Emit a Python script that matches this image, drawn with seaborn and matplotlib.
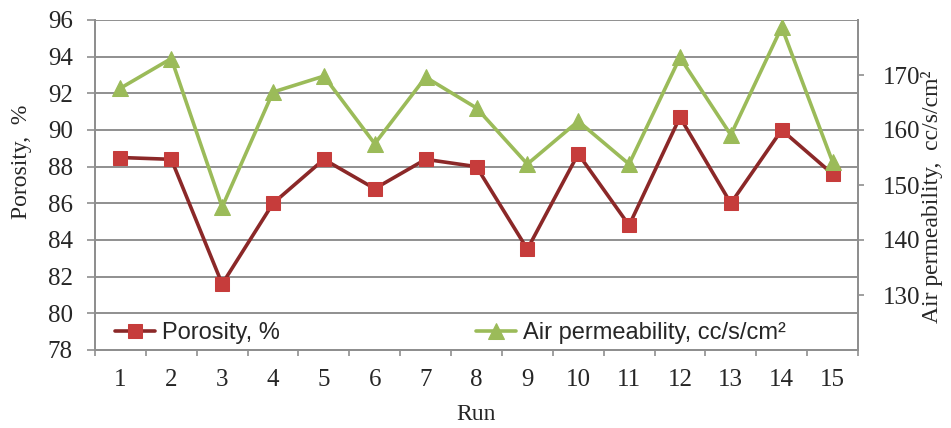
import numpy as np
import matplotlib
matplotlib.use("Agg")
import matplotlib.pyplot as plt
from matplotlib.ticker import FixedLocator
import seaborn as sns

# values
runs = list(range(1, 16))
porosity = [88.5, 88.4, 81.6, 86.0, 88.4, 86.8, 88.4, 88.0, 83.5, 88.7, 84.8, 90.7, 86.0, 90.0, 87.6]
air_perm = [167.6, 173.0, 146.0, 166.9, 169.8, 157.5, 169.6, 164.0, 153.8, 161.6, 153.8, 173.2, 159.1, 178.7, 154.2]
left_ticks = [78, 80, 82, 84, 86, 88, 90, 92, 94, 96]
right_ticks = [130, 140, 150, 160, 170]

red_line = "#8B2828"
red_mark = "#C63C3B"
green = "#9BBB59"
grid_col = "#8f8f8f"

sns.set_style("white")
plt.rcParams["font.family"] = ["Liberation Serif", "DejaVu Serif"]

fig = plt.figure(figsize=(9.51, 4.28), dpi=100)
ax = fig.add_axes([95 / 951, 78 / 428, 763 / 951, 330 / 428])
ax2 = ax.twinx()

sns.lineplot(x=runs, y=porosity, ax=ax, color=red_line, lw=2.6, marker="s",
             markersize=9.5, markerfacecolor=red_mark, markeredgecolor=red_mark,
             label="Porosity, %", legend=False)
sns.lineplot(x=runs, y=air_perm, ax=ax2, color=green, lw=2.6, marker="^",
             markersize=12, markerfacecolor=green, markeredgecolor=green,
             label="Air permeability, cc/s/cm²", legend=False)

ax.set_xlim(0.5, 15.5)
ax.set_ylim(78, 96)
ax2.set_ylim(120, 180)

ax.set_yticks(left_ticks)
ax2.set_yticks(right_ticks)
ax.set_xticks(runs)
ax.xaxis.set_minor_locator(FixedLocator(np.arange(0.5, 16, 1)))

ax.grid(axis="y", color=grid_col, lw=1.4)
ax.grid(axis="x", visible=False)
ax2.grid(False)

for a in (ax, ax2):
    a.spines["top"].set_visible(False)
    for side in ("left", "right", "bottom"):
        a.spines[side].set_color(grid_col)
        a.spines[side].set_linewidth(1.4)

ax.tick_params(axis="y", which="major", direction="out", length=6, width=1.2,
               color=grid_col, pad=10, labelsize=18, left=True)
ax.tick_params(axis="x", which="major", length=0, pad=14, labelsize=18, bottom=True)
ax.tick_params(axis="x", which="minor", direction="out", length=4, width=1.2,
               color=grid_col, bottom=True)
ax2.tick_params(axis="y", direction="out", length=4, width=1.2, color=grid_col,
                pad=14, labelsize=18, right=True)

ax.set_xlabel("Run", fontsize=17)
ax.xaxis.set_label_coords(0.5, -0.165)
ax.set_ylabel("Porosity,  %", fontsize=17)
ax.yaxis.set_label_coords(-0.083, 0.57)
ax2.set_ylabel("Air permeability,  cc/s/cm²", fontsize=17)
ax2.yaxis.set_label_coords(1.083, 0.464)

h1, l1 = ax.get_legend_handles_labels()
h2, l2 = ax2.get_legend_handles_labels()
ax2.legend(h1 + h2, l1 + l2, loc="center left", bbox_to_anchor=(0.026, 0.052),
           ncol=2, frameon=False, borderaxespad=0, borderpad=0,
           handlelength=1.7, handletextpad=0.3, columnspacing=8.3,
           prop={"family": "Liberation Sans", "size": 17})

fig.savefig("out.png", dpi=100)
